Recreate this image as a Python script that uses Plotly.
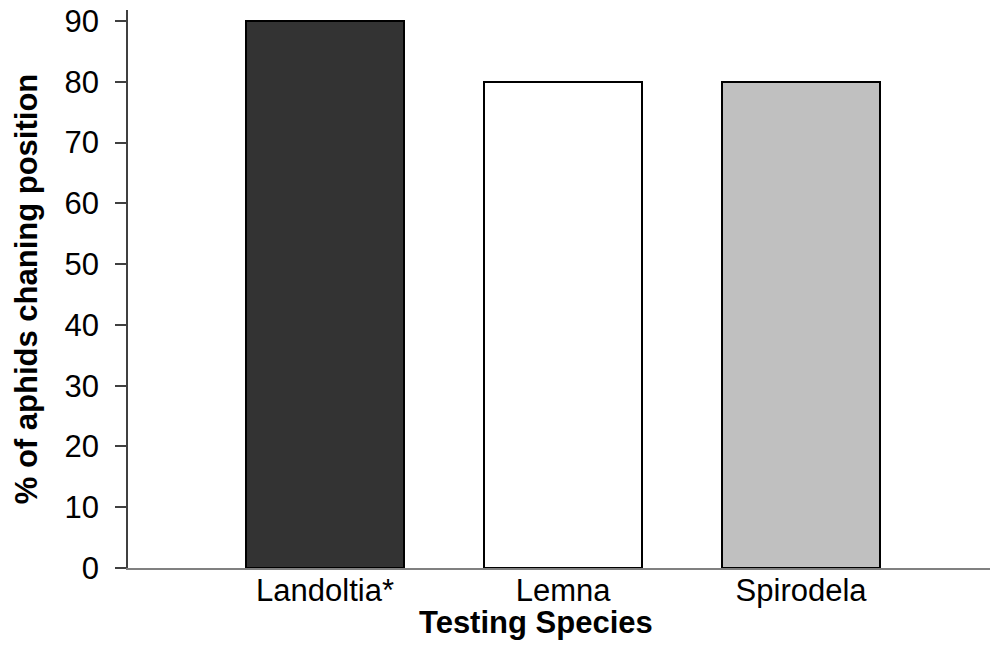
import plotly.graph_objects as go

species = ["Landoltia*", "Lemna", "Spirodela"]
percent_changing = [90, 80, 80]
bar_colors = ["#333333", "#ffffff", "#c0c0c0"]
y_ticks = [0, 10, 20, 30, 40, 50, 60, 70, 80, 90]

FONT = "Liberation Sans, Arial, sans-serif"
FS = 31

L, R, T, B = 128, 0, 10, 88
W, H = 990, 656
plot_w = W - L - R
plot_h = H - T - B
px_per_cat = 238.0
x_left = -0.828

fig = go.Figure()
fig.add_trace(go.Bar(
    x=species,
    y=percent_changing,
    width=0.664,
    marker=dict(color=bar_colors, line=dict(color="#000000", width=2)),
    showlegend=False,
    hoverinfo="skip",
))

fig.update_layout(
    width=W, height=H,
    margin=dict(l=L, r=R, t=T, b=B),
    paper_bgcolor="white", plot_bgcolor="white",
    font=dict(family=FONT, size=FS, color="#000000"),
    bargap=0,
    hovermode=False,
    xaxis=dict(
        type="category",
        range=[x_left, x_left + plot_w / px_per_cat],
        automargin=False,
        showline=True, linecolor="#808080", linewidth=2,
        ticks="", showgrid=False, zeroline=False,
        tickfont=dict(size=FS),
        ticklabelstandoff=-6,
        ticklabeloverflow="allow",
    ),
    yaxis=dict(
        range=[0, 91.8],
        automargin=False,
        tickvals=y_ticks,
        showline=True, linecolor="#404040", linewidth=1.5,
        ticks="outside", ticklen=11, tickcolor="#404040", tickwidth=1.5,
        showgrid=False, zeroline=False,
        tickfont=dict(size=FS),
        ticklabelstandoff=10,
        ticklabeloverflow="allow",
        title=dict(text="<b>% of aphids chaning position</b>", font=dict(size=FS), standoff=18),
    ),
    annotations=[dict(
        text="<b>Testing Species</b>",
        x=(536 - L) / plot_w, y=((H - B) - 622) / plot_h,
        xref="paper", yref="paper", xanchor="center", yanchor="middle",
        showarrow=False, font=dict(size=FS),
    )],
)

fig.write_html(
    "out.html",
    config={"displayModeBar": False},
    post_script="document.body.style.margin='0';",
)
